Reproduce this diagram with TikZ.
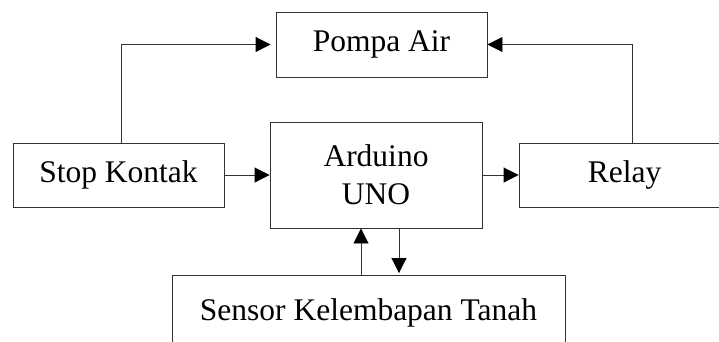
\documentclass[tikz,border=0pt]{standalone}
\usepackage{fontspec}
\setmainfont{Liberation Serif}
\usetikzlibrary{arrows.meta}
\tikzset{
  blk/.style={draw=black!80, line width=0.9pt, inner sep=0pt, font=\fontsize{31.5}{38}\selectfont, align=center},
  conn/.style={draw=black!80, line width=0.9pt, -{Triangle[length=15pt,width=15pt,color=black]}}
}
\begin{document}
\begin{tikzpicture}[x=1pt,y=-1pt]
\useasboundingbox (0,0) rectangle (719,341);
\clip (0,0) rectangle (719,341);
\node[blk, minimum width=211pt, minimum height=65pt] (pompa) at (381.5,44.5) {Pompa Air};
\node[blk, minimum width=212pt, minimum height=106pt] (ard) at (376,175) {Arduino\\UNO};
\node[blk, minimum width=211pt, minimum height=64pt] (sk) at (118.5,175) {Stop Kontak};
\node[blk, minimum width=240pt, minimum height=64pt] (relay) at (639,175) {Relay\hspace*{29pt}};
\node[blk, minimum width=393pt, minimum height=90pt, text height=21pt, text depth=20pt] (sensor) at (368.5,320) {Sensor Kelembapan Tanah};
\draw[conn, shorten >=5pt] ([xshift=2.5pt]sk.north) |- (pompa.west);
\draw[conn] ([xshift=-7pt]relay.north) |- (pompa.east);
\draw[conn] (sk.east) -- (ard.west);
\draw[conn] (ard.east) -- (relay.west);
\draw[conn] ([xshift=-15pt]ard.south |- sensor.north) -- ([xshift=-15pt]ard.south);
\draw[conn, shorten >=1.5pt] ([xshift=23pt]ard.south) -- ([xshift=23pt]ard.south |- sensor.north);
\end{tikzpicture}
\end{document}
